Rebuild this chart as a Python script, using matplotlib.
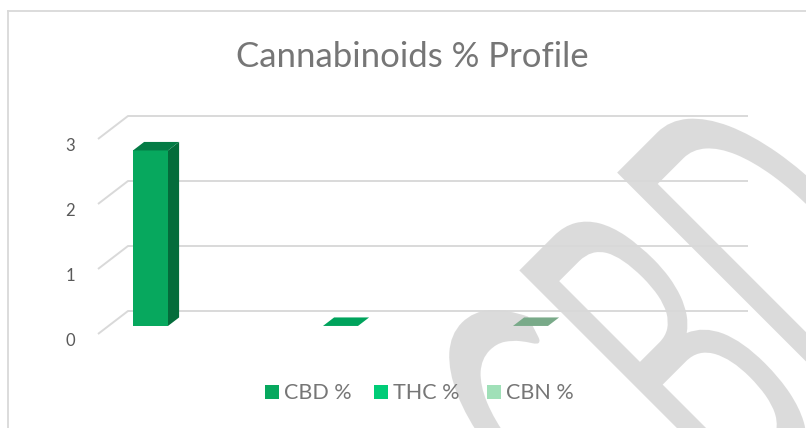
import numpy as np
import matplotlib
matplotlib.use("Agg")
import matplotlib.pyplot as plt
from matplotlib.patches import Polygon, Rectangle, PathPatch
from matplotlib.textpath import TextPath
from matplotlib.font_manager import FontProperties
from matplotlib.transforms import Affine2D

# data
series = ["CBD %", "THC %", "CBN %"]
values = [2.7, 0.0, 0.0]
yticks = [0, 1, 2, 3]
title = "Cannabinoids % Profile"

front_colors = ["#07a85e", "#00cc77", "#a0e0b8"]
side_colors = ["#046c3b", "#00854d", "#6a9a7c"]
top_colors = ["#047b45", "#00a35c", "#79aa89"]

FONT = "Lato"
TEXT_COLOR = "#767676"
GRID_COLOR = "#d9d9d9"

# pixel layout -> data mapping (category index on x, value on y)
PX_X0, PX_PER_CAT = 140, 190
PX_Y0, PX_PER_UNIT = 334, 65
W, H = 806, 428
DX = 30 / PX_PER_CAT      # depth offset of the floor (x)
DY = 23 / PX_PER_UNIT     # depth offset of the floor (y)
D0, D1 = 0.35, 0.72       # bar front/back depth
HW = 17.5 / PX_PER_CAT    # bar half width
X_LO, X_HI = (98 - PX_X0) / PX_PER_CAT, (718 - PX_X0) / PX_PER_CAT


def proj(x, y, d):
    return (x + d * DX, y + d * DY)


fig = plt.figure(figsize=(W / 100, H / 100), dpi=100)
ax = fig.add_axes([0, 0, 1, 1])
ax.axis("off")

# chart border (left and top)
ax.plot([(8.5 - PX_X0) / PX_PER_CAT] * 2, [(PX_Y0 - 10.5) / PX_PER_UNIT, -5],
        color=GRID_COLOR, lw=1.3, zorder=1)
ax.plot([(8.5 - PX_X0) / PX_PER_CAT, 10], [(PX_Y0 - 10.5) / PX_PER_UNIT] * 2,
        color=GRID_COLOR, lw=1.3, zorder=1)

# gridlines: back wall + left wall diagonal
for t in yticks:
    xs, ys = zip(proj(X_LO, t, 0), proj(X_LO, t, 1), proj(X_HI, t, 1))
    ax.plot(xs, ys, color=GRID_COLOR, lw=1.4, zorder=1, solid_capstyle="butt")
    ax.text(-0.368, t - 0.11, str(t), ha="center", va="center",
            fontsize=12, color="#595959", family=FONT)

# bars
for i, v in enumerate(values):
    front = [proj(i - HW, 0, D0), proj(i + HW, 0, D0), proj(i + HW, v, D0), proj(i - HW, v, D0)]
    side = [proj(i + HW, 0, D0), proj(i + HW, 0, D1), proj(i + HW, v, D1), proj(i + HW, v, D0)]
    top = [proj(i - HW, v, D0), proj(i + HW, v, D0), proj(i + HW, v, D1), proj(i - HW, v, D1)]
    if v > 0:
        ax.add_patch(Polygon(front, closed=True, fc=front_colors[i], ec="none", zorder=3))
        ax.add_patch(Polygon(side, closed=True, fc=side_colors[i], ec="none", zorder=3))
    ax.add_patch(Polygon(top, closed=True, fc=top_colors[i], ec="none", zorder=3))

# watermark
tp = TextPath((0, 0), "CBD", size=1, prop=FontProperties(family=FONT))
tr = Affine2D().scale(2.14, 4.67).rotate_deg(45).translate(6.41, -1.94) + fig.dpi_scale_trans
ax.add_artist(PathPatch(tp, transform=tr, fc="#d8d8d8", ec="none", alpha=0.9, zorder=2))

# title
fig.text(412 / W, 1 - 67 / H, title, ha="center", va="baseline",
         fontsize=25, color=TEXT_COLOR, family=FONT)

# legend
sq_x = [265, 374, 487]
for i, name in enumerate(series):
    fig.patches.append(Rectangle((sq_x[i] / W, 1 - 399 / H), 14 / W, 14 / H,
                                 transform=fig.transFigure, fc=front_colors[i], ec="none"))
    fig.text((sq_x[i] + 19) / W, 1 - 399 / H, name, ha="left", va="baseline",
             fontsize=15.5, color=TEXT_COLOR, family=FONT)

ax.set_xlim(-PX_X0 / PX_PER_CAT, (W - PX_X0) / PX_PER_CAT)
ax.set_ylim(-(H - PX_Y0) / PX_PER_UNIT, PX_Y0 / PX_PER_UNIT)

fig.savefig("out.png", dpi=100)
